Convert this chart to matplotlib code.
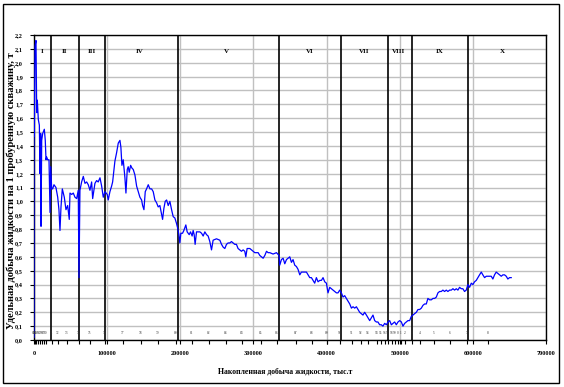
import matplotlib
matplotlib.use('Agg')
import matplotlib.pyplot as plt
from matplotlib.patches import Rectangle

# cumulative liquid production, thousand t
cum_prod = [0, 0, 400, 1400, 2700, 3700, 4500, 5900, 7300, 8200, 9100, 9600, 10500, 11900,
            14100, 15400, 16400, 17300, 18700, 20500, 21900, 22800, 24200, 25500, 27300,
            30000, 32400, 34100, 35500, 36900, 38700, 41400, 43700, 46000, 48200, 49200,
            51500, 53700, 56000, 58300, 60500, 61500, 62800, 65100, 67400, 69700, 72000,
            74200, 76500, 78800, 80200, 83300, 85600, 87800, 90200, 92500, 94700, 97000,
            100100, 101500, 103800, 106100, 107500, 109300, 110600, 112900, 115200, 117500,
            118800, 120200, 122000, 124300, 125700, 127500, 128800, 130200, 132100, 133900,
            135700, 138000, 140300, 142500, 144800, 147100, 148500, 150300, 152100, 153900,
            156200, 158500, 160800, 163000, 165300, 167600, 169800, 172100, 174400, 175800,
            177600, 179400, 181300, 183500, 185800, 188100, 190300, 192600, 194900, 196300,
            198100, 199400, 200800, 203100, 204900, 207600, 209400, 212200, 214000, 216200,
            217600, 219000, 220300, 222200, 226800, 229100, 231300, 233600, 235900, 238100,
            240400, 242700, 244900, 249500, 254100, 256400, 258600, 260900, 263200, 265400,
            267700, 270000, 272200, 274500, 276800, 279000, 281400, 283700, 285900, 288200,
            289600, 291400, 295100, 297400, 299600, 301900, 306500, 308700, 311000, 313300,
            315600, 317900, 320100, 322400, 326900, 331500, 335100, 336000, 338300, 340600,
            342900, 345200, 347400, 349700, 352000, 354200, 356500, 358800, 361000, 363400,
            365600, 367900, 372500, 374700, 377000, 379300, 381500, 383800, 386100, 388400,
            390700, 393000, 395200, 397500, 399800, 402000, 404300, 406600, 408900, 411200,
            413500, 415700, 418000, 420300, 422500, 424800, 427100, 429300, 431700, 434000,
            436200, 438500, 440800, 443000, 445300, 447600, 449800, 452100, 454500, 456700,
            459000, 461300, 463500, 465800, 468100, 470300, 472600, 474900, 477100, 479500,
            481800, 484000, 486300, 488600, 490800, 493100, 495400, 497700, 500000, 502300,
            504500, 506800, 509100, 511300, 513600, 515900, 518100, 520400, 522800, 525000,
            527300, 529600, 531800, 534100, 536400, 538600, 540900, 543300, 545500, 547800,
            550100, 552300, 554600, 556900, 559100, 561400, 563700, 565900, 568300, 570600,
            572800, 575100, 577400, 579600, 581900, 584200, 586400, 588700, 591000, 593300,
            595600, 597900, 600100, 602400, 604700, 606900, 609200, 611600, 613700, 616100,
            618400, 620600, 622900, 625200, 627400, 629700, 632000, 634300, 636600, 638900,
            641100, 643400, 645700, 647900, 650200, 652500]

# specific liquid production per drilled well, t
spec_prod = [0.02, 1.71, 1.47, 2.12, 2.16, 1.64, 1.73, 1.59, 1.55, 1.20, 1.49, 0.82, 1.44, 1.49,
             1.52, 1.44, 1.30, 1.32, 1.30, 1.30, 0.92, 1.25, 1.09, 1.09, 1.12,
             1.10, 1.03, 0.94, 0.79, 0.96, 1.09, 1.03, 0.94, 0.97, 0.87, 1.06,
             1.05, 1.06, 1.03, 1.02, 1.08, 0.45, 1.08, 1.14, 1.18, 1.13, 1.14,
             1.12, 1.08, 1.14, 1.02, 1.13, 1.15, 1.14, 1.17, 1.11, 1.03, 1.07,
             1.05, 1.01, 1.07, 1.11, 1.14, 1.23, 1.29, 1.35, 1.42, 1.44,
             1.39, 1.26, 1.30, 1.17, 1.06, 1.23, 1.25, 1.21, 1.26, 1.24,
             1.23, 1.19, 1.11, 1.07, 1.03, 1.01, 0.97, 0.94, 1.07, 1.09,
             1.12, 1.09, 1.09, 1.07, 1.01, 0.99, 0.96, 0.97, 0.91, 0.87,
             0.95, 1.00, 1.01, 0.97, 1.00, 0.94, 0.89, 0.88, 0.84, 0.81,
             0.76, 0.70, 0.77, 0.77, 0.79, 0.83, 0.78, 0.76, 0.78, 0.75,
             0.79, 0.76, 0.69, 0.78, 0.78, 0.77, 0.75, 0.78, 0.76, 0.75,
             0.71, 0.65, 0.72, 0.73, 0.72, 0.69, 0.67, 0.66, 0.69, 0.70,
             0.70, 0.71, 0.70, 0.69, 0.69, 0.66, 0.65, 0.64, 0.65, 0.64,
             0.60, 0.66, 0.66, 0.65, 0.64, 0.63, 0.63, 0.61, 0.60, 0.59,
             0.61, 0.64, 0.63, 0.63, 0.62, 0.63, 0.61, 0.54, 0.58, 0.59,
             0.55, 0.58, 0.59, 0.60, 0.56, 0.58, 0.54, 0.53, 0.51, 0.47,
             0.49, 0.49, 0.49, 0.47, 0.45, 0.45, 0.43, 0.41, 0.45, 0.42,
             0.43, 0.43, 0.45, 0.42, 0.41, 0.34, 0.38, 0.37, 0.36, 0.35,
             0.34, 0.34, 0.36, 0.34, 0.31, 0.32, 0.30, 0.28, 0.26, 0.23,
             0.24, 0.23, 0.24, 0.22, 0.20, 0.19, 0.18, 0.20, 0.18, 0.16,
             0.14, 0.16, 0.18, 0.14, 0.13, 0.13, 0.11, 0.11, 0.10, 0.12,
             0.11, 0.13, 0.14, 0.11, 0.12, 0.13, 0.11, 0.13, 0.14, 0.13,
             0.10, 0.12, 0.13, 0.14, 0.14, 0.17, 0.18, 0.19, 0.20, 0.22,
             0.22, 0.23, 0.25, 0.26, 0.26, 0.30, 0.29, 0.29, 0.30, 0.30,
             0.31, 0.34, 0.35, 0.35, 0.36, 0.35, 0.36, 0.35, 0.36, 0.36,
             0.37, 0.36, 0.37, 0.36, 0.38, 0.37, 0.37, 0.35, 0.36, 0.40,
             0.38, 0.41, 0.40, 0.42, 0.43, 0.45, 0.47, 0.49, 0.47, 0.45,
             0.46, 0.46, 0.46, 0.46, 0.44, 0.47, 0.49, 0.48, 0.47, 0.46,
             0.47, 0.47, 0.46, 0.44, 0.45, 0.45]

# development stage boundaries and names
stage_bounds = [23300, 61600, 97100, 197000, 335000, 420000, 484000, 517000, 594000]
stage_names = ['I', 'II', 'III', 'IV', 'V', 'VI', 'VII', 'VIII', 'IX', 'X']
stage_label_x = [10900, 41000, 79000, 145000, 263600, 377000, 450800, 498600, 554600, 640700]

# year marks along the bottom
year_x = [0, 1400, 2700, 5500, 8200, 10900, 13700, 16400, 24600, 32800, 45100, 61500,
          76500, 97000, 121600, 146200, 169400, 194000, 215800, 239100, 262300, 284100,
          310100, 331900, 357900, 379700, 400200, 418000, 434400, 446700, 456700, 468500,
          474000, 479500, 483600, 489000, 493100, 497200, 501300, 506800, 516400, 527300,
          546500, 568300, 591600, 620200]
year_lbl = ['63', '64', '65', '66', '67', '68', '69', '70', '71', '72', '73', '74',
            '75', '76', '77', '78', '79', '80', '81', '82', '83', '84',
            '85', '86', '87', '88', '89', '90', '91', '92', '93', '94',
            '95', '96', '97', '98', '99', '0', '1', '2', '3', '4',
            '5', '6', '7', '8']

serif = 'Liberation Serif'

fig = plt.figure(figsize=(5.64, 3.87), dpi=100)
ax = fig.add_axes([0.0603, 0.1214, 0.9077, 0.7882])

ax.set_xlim(0, 700000)
ax.set_ylim(0, 2.2)
ax.set_yticks([i / 10 for i in range(23)])
ax.set_yticklabels([('%.1f' % (i / 10)).replace('.', ',') for i in range(23)],
                   fontfamily=serif, fontsize=4.5, fontweight='bold')
ax.set_xticks(range(0, 700001, 100000))
ax.set_xticklabels([str(v) for v in range(0, 700001, 100000)],
                   fontfamily=serif, fontsize=4.5, fontweight='bold')
ax.set_xticks(year_x, minor=True)
ax.tick_params(axis='both', which='major', length=3, width=0.8, direction='out', pad=5)
ax.tick_params(axis='x', which='minor', length=3, width=0.8, direction='out')

ax.grid(True, which='major', color='#c0c0c0', linewidth=1)
ax.set_axisbelow(True)
for s in ax.spines.values():
    s.set_color('black')
    s.set_linewidth(1)

for b in stage_bounds:
    ax.axvline(b, color='black', linewidth=1.2, zorder=2)

ax.plot(cum_prod, spec_prod, color='#0000ff', linewidth=0.9, zorder=3)

for x, name in zip(stage_label_x, stage_names):
    ax.text(x, 2.08, name, ha='center', va='center', fontfamily=serif,
            fontsize=5, fontweight='bold')

for x, lbl in zip(year_x, year_lbl):
    ax.text(x, 0.05, lbl, ha='center', va='center', fontfamily=serif,
            fontsize=2.5, color='#333333')

ax.set_xlabel('Накопленная добыча жидкости, тыс.т', fontfamily=serif,
              fontsize=5.6, fontweight='bold', va='center')
ax.xaxis.set_label_coords(0.49, -0.102)
ax.set_ylabel('Удельная добыча жидкости на 1 пробуренную скважину, т', fontfamily=serif,
              fontsize=7.6, fontweight='bold', va='center')
ax.yaxis.set_label_coords(-0.045, 0.49)

fig.patches.append(Rectangle((3 / 564, 4 / 387), 556 / 564, 379 / 387,
                             transform=fig.transFigure, fill=False,
                             edgecolor='black', linewidth=1))

fig.savefig('out.png', dpi=100)
